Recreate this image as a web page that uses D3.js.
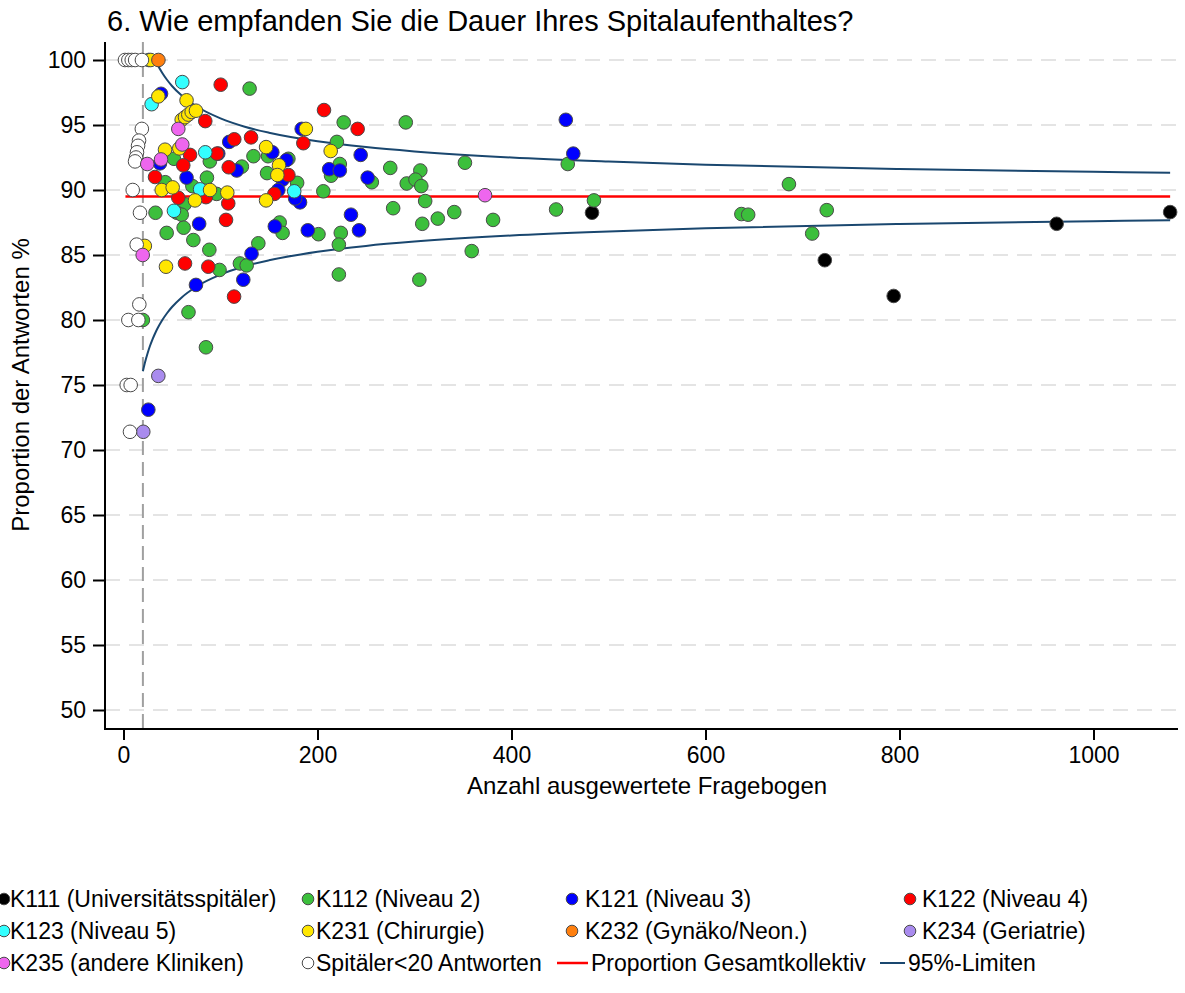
<!DOCTYPE html>
<html>
<head>
<meta charset="utf-8">
<script src="https://cdn.jsdelivr.net/npm/d3@7"></script>
<style>
  html, body { margin: 0; padding: 0; background: #fff; }
  svg { display: block; }
  text { font-family: "Liberation Sans", Arial, sans-serif; fill: #000; }
</style>
</head>
<body>
<svg id="chart" width="1185" height="993"></svg>
<script>
// ---------- data (n = Anzahl Fragebogen, v = Proportion %) ----------
const K111 = [[483,88.25],[723,84.6],[794,81.85],[962,87.4],[1079,88.3]];
const K112 = [[20,80.0],[67,80.6],[85,77.9],[130,97.8],[52,92.4],[89,92.2],[122,91.8],[86,90.95],
  [134,92.6],[43,90.6],[71,90.3],[96,89.7],[63,88.9],[55,88.25],[60,88.1],[33,88.25],[62,87.1],
  [44.5,86.7],[72,86.15],[88.5,85.4],[99,83.85],[120,84.35],[127,84.2],[139,85.9],[227,95.2],
  [291,95.2],[220,93.7],[149,92.6],[170,92.4],[148,91.3],[179,90.55],[206,89.9],[223,92.0],
  [214,91.1],[256,90.6],[275,91.7],[306,91.5],[292,90.5],[301,90.8],[307,90.3],[311,89.15],
  [324,87.8],[278,88.6],[308,87.4],[161,87.5],[164,86.7],[201,86.6],[224,86.7],[222,85.8],
  [222,83.5],[305,83.1],[352,92.1],[458,92.0],[485,89.2],[446,88.5],[341,88.3],[381,87.7],
  [359,85.3],[686,90.45],[637,88.15],[644,88.1],[725,88.45],[710,86.65]];
const K121 = [[25.6,73.1],[38.7,97.4],[37.6,92.05],[97.7,92.8],[109,93.7],[116.7,91.5],[65,90.95],
  [78,87.4],[74.7,82.7],[123.5,83.1],[132,85.1],[183.7,94.7],[153.4,92.9],[244.5,92.7],[168,92.3],
  [164,90.8],[159.6,90.0],[182,89.05],[177,89.35],[212,91.6],[223,91.5],[251.7,90.95],[234.5,88.1],
  [156,87.2],[190,86.9],[242.8,86.9],[456,95.4],[463.7,92.8]];
const K122 = [[100.2,98.1],[84.3,95.3],[68.6,92.7],[61.6,91.9],[96.4,92.8],[114.2,93.9],[131.5,94.05],
  [32.5,91.0],[108.5,91.75],[56.5,89.4],[85,89.45],[108,88.97],[105.7,87.7],[63.4,84.35],[87.4,84.1],
  [114,81.8],[206.7,96.15],[241.4,94.7],[185.4,93.6],[170,91.15],[155.5,89.7]];
const K123 = [[26,100],[60.6,98.3],[29,96.6],[84.3,92.9],[52,88.4],[79,90.05],[176,89.9]];
const K231 = [[28,100],[35.9,97.2],[65,96.9],[60,95.4],[63.4,95.6],[66.8,95.8],[70.3,96.0],[74.7,96.1],
  [42.8,93.1],[57.5,93.2],[39.4,90.0],[50.7,90.2],[73.7,89.2],[89.2,90.0],[107,89.8],[22,85.7],
  [43.8,84.1],[188,94.7],[147,93.3],[213.6,93.0],[160.3,91.9],[158.6,91.15],[147,89.2]];
const K232 = [[36,100]];
const K234 = [[35.9,75.7],[20.4,71.4]];
const K235 = [[56.5,94.7],[24.5,92.0],[38.7,92.35],[60.6,93.5],[19.8,85.0],[372.7,89.6]];
const SMALL = [[1.5,100],[5,100],[8.5,100],[12,100],[19,100],[9.5,90.0],[17,88.25],[13.6,85.8],
  [16.3,81.2],[5,80],[15.3,80],[3.3,75],[7.4,75],[6.7,71.4],[18.9,94.7],[16,93.8],[15,93.4],
  [13.9,92.9],[12.9,92.5],[11.9,92.2]];

// Gesamtproportion and 95%-Limiten
const overall = 89.5;
const overallRange = [2, 1079];
const limitN     = [20, 22, 25, 27, 30, 33, 35, 40, 45, 50, 60, 75, 100, 125, 150, 200, 250, 300, 400, 500, 600, 800, 1000, 1079];
const limitLower = [76.06, 76.69, 77.48, 77.94, 78.53, 79.04, 79.34, 80.0, 80.54, 81.0, 81.74, 82.56, 83.49, 84.13, 84.59, 85.25, 85.70, 86.03, 86.50, 86.81, 87.05, 87.38, 87.60, 87.67];
const limitUpper = [null, null, null, null, null, 99.96, 99.66, 99.0, 98.46, 98.0, 97.26, 96.44, 95.51, 94.87, 94.41, 93.75, 93.30, 92.97, 92.50, 92.19, 91.95, 91.62, 91.40, 91.33];
const cutoff = 20;

const xTicks = [0, 200, 400, 600, 800, 1000];
const yTicks = [50, 55, 60, 65, 70, 75, 80, 85, 90, 95, 100];

const titleText = "6. Wie empfanden Sie die Dauer Ihres Spitalaufenthaltes?";
const xTitle = "Anzahl ausgewertete Fragebogen";
const yTitle = "Proportion der Antworten %";

const groups = [
  {key:"K111", label:"K111 (Universitätsspitäler)", color:"#000000", data:K111},
  {key:"K112", label:"K112 (Niveau 2)", color:"#3cbf3c", data:K112},
  {key:"K121", label:"K121 (Niveau 3)", color:"#0000ff", data:K121},
  {key:"K122", label:"K122 (Niveau 4)", color:"#ff0000", data:K122},
  {key:"K123", label:"K123 (Niveau 5)", color:"#33ffff", data:K123},
  {key:"K231", label:"K231 (Chirurgie)", color:"#ffe600", data:K231},
  {key:"K232", label:"K232 (Gynäko/Neon.)", color:"#ff7f0e", data:K232},
  {key:"K234", label:"K234 (Geriatrie)", color:"#a98bee", data:K234},
  {key:"K235", label:"K235 (andere Kliniken)", color:"#ee66ee", data:K235},
  {key:"SMALL", label:"Spitäler<20 Antworten", color:"#ffffff", data:SMALL}
];
const drawOrder = ["K111","K112","K121","K122","K123","K231","K232","K234","SMALL","K235"];

// ---------- layout ----------
const svg = d3.select("#chart");
const x = d3.scaleLinear().domain([0, 1000]).range([123.5, 1093.5]);
const y = d3.scaleLinear().domain([50, 100]).range([710, 60]);
const axisX = 105, axisY = 729, plotTop = 42, plotRight = 1178;
const FONT = "Liberation Sans, Arial, sans-serif";

// grid
svg.append("g").selectAll("line").data(yTicks).join("line")
  .attr("x1", axisX).attr("x2", plotRight)
  .attr("y1", d => y(d)).attr("y2", d => y(d))
  .attr("stroke", "#dcdcdc").attr("stroke-width", 1.5).attr("stroke-dasharray", "15,9");

// cutoff line
svg.append("line")
  .attr("x1", x(cutoff)).attr("x2", x(cutoff))
  .attr("y1", plotTop).attr("y2", axisY)
  .attr("stroke", "#a0a0a0").attr("stroke-width", 2).attr("stroke-dasharray", "14,7");

// overall line
svg.append("line")
  .attr("x1", x(overallRange[0])).attr("x2", x(overallRange[1]))
  .attr("y1", y(overall)).attr("y2", y(overall))
  .attr("stroke", "#ff0000").attr("stroke-width", 2.5);

// limits
const lowPts = limitN.map((n, i) => [n, limitLower[i]]);
const upPts = limitN.map((n, i) => [n, limitUpper[i]]).filter(d => d[1] !== null);
const lineGen = d3.line().x(d => x(d[0])).y(d => y(d[1])).curve(d3.curveMonotoneX);
[lowPts, upPts].forEach(pts => {
  svg.append("path").attr("d", lineGen(pts))
    .attr("fill", "none").attr("stroke", "#1a476f").attr("stroke-width", 2);
});

// points
const byKey = Object.fromEntries(groups.map(g => [g.key, g]));
drawOrder.forEach(k => {
  const g = byKey[k];
  svg.append("g").selectAll("circle").data(g.data).join("circle")
    .attr("cx", d => x(d[0])).attr("cy", d => y(d[1])).attr("r", 6.8)
    .attr("fill", g.color).attr("stroke", "#4a4a4a").attr("stroke-width", 1);
});

// axes
const yAxis = d3.axisLeft(y).tickValues(yTicks).tickSize(12).tickPadding(7).tickFormat(d3.format("d"));
const gy = svg.append("g").attr("transform", `translate(${axisX},0)`).call(yAxis);
gy.select(".domain").remove();
gy.selectAll(".tick line").attr("stroke", "#000").attr("stroke-width", 2);
gy.selectAll(".tick text").style("font-size", "23px").style("font-family", FONT);

const xAxis = d3.axisBottom(x).tickValues(xTicks).tickSize(11).tickPadding(7).tickFormat(d3.format("d"));
const gx = svg.append("g").attr("transform", `translate(0,${axisY})`).call(xAxis);
gx.select(".domain").remove();
gx.selectAll(".tick line").attr("stroke", "#000").attr("stroke-width", 2);
gx.selectAll(".tick text").style("font-size", "23px").style("font-family", FONT);

svg.append("line").attr("x1", axisX).attr("x2", axisX).attr("y1", plotTop).attr("y2", axisY + 1)
  .attr("stroke", "#000").attr("stroke-width", 2);
svg.append("line").attr("x1", axisX - 1).attr("x2", plotRight).attr("y1", axisY).attr("y2", axisY)
  .attr("stroke", "#000").attr("stroke-width", 2);

// titles
svg.append("text").attr("x", 107).attr("y", 31).style("font-size", "29px").text(titleText);
svg.append("text").attr("x", 647).attr("y", 794)
  .attr("text-anchor", "middle").style("font-size", "24px").text(xTitle);
svg.append("text").attr("transform", `translate(29,${(60 + 710) / 2}) rotate(-90)`)
  .attr("text-anchor", "middle").style("font-size", "24px").text(yTitle);

// legend
const legendRows = [899, 931, 963];
const legendCols = [
  {mx: 4, tx: 10},
  {mx: 308, tx: 316},
  {mx: 572, tx: 585},
  {mx: 910, tx: 922}
];
const legendItems = [
  {g:"K111", r:0, c:0}, {g:"K112", r:0, c:1}, {g:"K121", r:0, c:2}, {g:"K122", r:0, c:3},
  {g:"K123", r:1, c:0}, {g:"K231", r:1, c:1}, {g:"K232", r:1, c:2}, {g:"K234", r:1, c:3},
  {g:"K235", r:2, c:0}, {g:"SMALL", r:2, c:1}
];
const LFS = "23px";
const lg = svg.append("g");
legendItems.forEach(it => {
  const g = byKey[it.g];
  const yy = legendRows[it.r];
  const col = legendCols[it.c];
  lg.append("circle").attr("cx", col.mx).attr("cy", yy).attr("r", 5.8)
    .attr("fill", g.color).attr("stroke", "#4a4a4a").attr("stroke-width", 1);
  lg.append("text").attr("x", col.tx).attr("y", yy).attr("dy", "0.35em")
    .style("font-size", LFS).text(g.label);
});
// line keys
lg.append("line").attr("x1", 557).attr("x2", 588).attr("y1", legendRows[2]).attr("y2", legendRows[2])
  .attr("stroke", "#ff0000").attr("stroke-width", 2.5);
lg.append("text").attr("x", 591).attr("y", legendRows[2]).attr("dy", "0.35em")
  .style("font-size", LFS).text("Proportion Gesamtkollektiv");
lg.append("line").attr("x1", 880).attr("x2", 905).attr("y1", legendRows[2]).attr("y2", legendRows[2])
  .attr("stroke", "#1a476f").attr("stroke-width", 2);
lg.append("text").attr("x", 908).attr("y", legendRows[2]).attr("dy", "0.35em")
  .style("font-size", LFS).text("95%-Limiten");
</script>
</body>
</html>
